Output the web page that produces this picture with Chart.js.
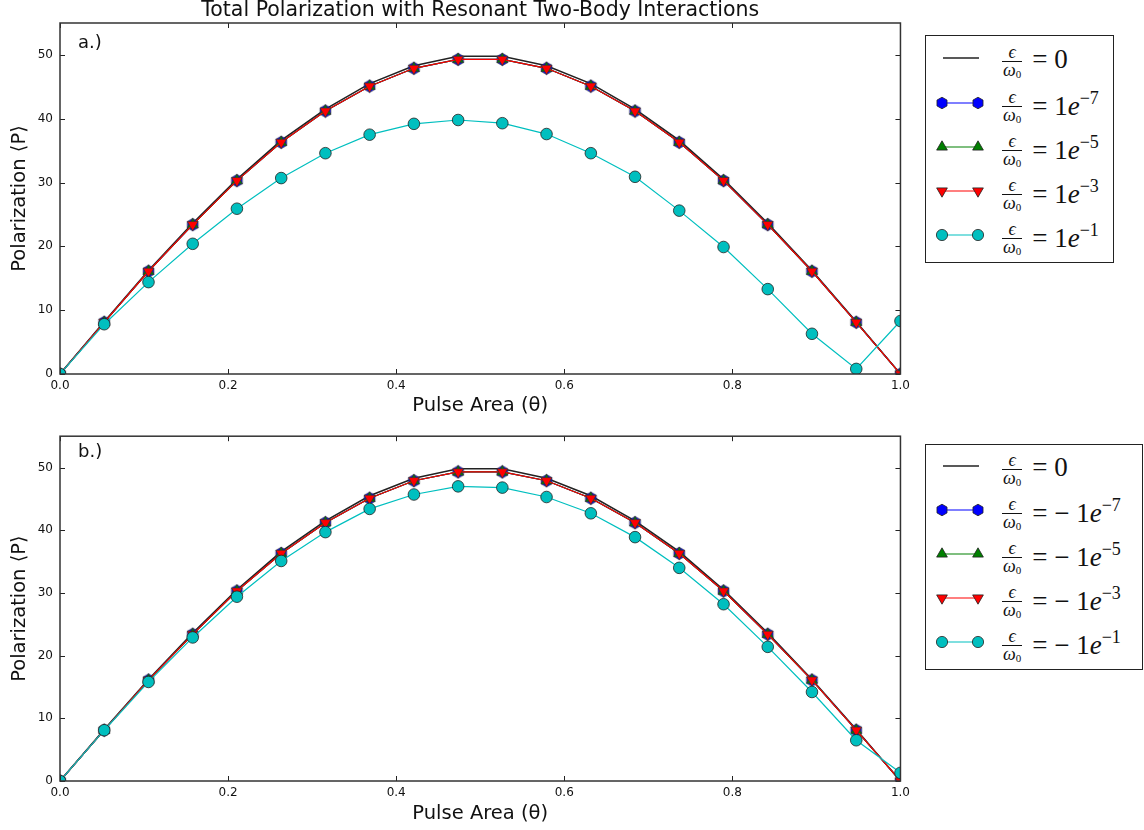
<!DOCTYPE html>
<html><head><meta charset="utf-8">
<script src="https://cdn.jsdelivr.net/npm/chart.js@4.4.0/dist/chart.umd.min.js"></script>
<style>
body{margin:0;width:1144px;height:830px;background:#fff;position:relative;overflow:hidden;font-family:"DejaVu Sans",sans-serif;}
canvas{position:absolute;left:0;}
#c1{top:0}
#c2{top:422px}
.legend{position:absolute;left:925px;border:1.5px solid #222;background:#fff;box-sizing:border-box;}
.row{position:absolute;left:0;height:40px;margin-top:-20px;}
.row svg{position:absolute;left:9px;top:11px;}
.lab{position:absolute;left:76px;top:5px;height:40px;display:flex;align-items:center;font-family:"Liberation Serif","DejaVu Serif",serif;color:#111;white-space:nowrap;}
.frac{display:inline-flex;flex-direction:column;align-items:center;font-size:18px;line-height:15px;font-style:italic;margin-right:10px;}
.frac .num{padding-bottom:1px;}
.frac .den{border-top:1px solid #111;padding:1px 1px 0 1px;}
.frac sub{font-size:11px;font-style:normal;vertical-align:-2px;}
.eq{font-size:27px;line-height:1;position:relative;top:-4px;}
.eq i{font-style:italic;}
.eq sup{font-size:18px;vertical-align:11px;}
</style></head>
<body>
<canvas id="c1" width="915" height="422"></canvas>
<canvas id="c2" width="915" height="408"></canvas>
<div class="legend" id="leg1" style="top:35px;width:189px;height:228px;"></div>
<div class="legend" id="leg2" style="top:444px;width:218px;height:226px;"></div>
<script>
// ---- data ----
const theta = [0, 0.0526, 0.1053, 0.1579, 0.2105, 0.2632, 0.3158, 0.3684, 0.4211, 0.4737, 0.5263, 0.5789, 0.6316, 0.6842, 0.7368, 0.7895, 0.8421, 0.8947, 0.9474, 1.0];
const pZero   = [0, 8.2, 16.2, 23.6, 30.5, 36.6, 41.5, 45.5, 48.3, 49.8, 49.8, 48.3, 45.5, 41.5, 36.6, 30.5, 23.6, 16.2, 8.2, 0];
const pE7     = [0, 8.1, 16.1, 23.4, 30.3, 36.3, 41.2, 45.1, 47.9, 49.3, 49.3, 47.9, 45.1, 41.2, 36.3, 30.3, 23.4, 16.1, 8.1, 0];
const pE5     = [0, 8.1, 16.1, 23.4, 30.3, 36.3, 41.2, 45.1, 47.9, 49.3, 49.3, 47.9, 45.1, 41.2, 36.3, 30.3, 23.4, 16.1, 8.1, 0];
const pE3     = [0, 8.1, 16.1, 23.4, 30.3, 36.3, 41.2, 45.1, 47.9, 49.3, 49.3, 47.9, 45.1, 41.2, 36.3, 30.3, 23.4, 16.1, 8.1, 0];
const pE1pos  = [0, 7.8, 14.4, 20.4, 25.9, 30.7, 34.6, 37.5, 39.2, 39.8, 39.3, 37.6, 34.6, 30.9, 25.6, 19.9, 13.3, 6.3, 0.8, 8.3];
const pE1neg  = [0, 8.1, 15.8, 22.9, 29.4, 35.1, 39.7, 43.4, 45.7, 47.0, 46.8, 45.3, 42.7, 38.9, 34.0, 28.2, 21.4, 14.2, 6.5, 1.3];
const xTicks = [0, 0.2, 0.4, 0.6, 0.8, 1.0];
const yTicks = [0, 10, 20, 30, 40, 50];
const legendTop = ["0", "1e-7", "1e-5", "1e-3", "1e-1"];
const legendBottom = ["0", "-1e-7", "-1e-5", "-1e-3", "-1e-1"];
const chartTitle = "Total Polarization with Resonant Two-Body Interactions";

// ---- hexagon marker ----
function hexCanvas(r){
  const s = Math.ceil(r*2+2), c = document.createElement('canvas');
  c.width = s; c.height = s;
  const g = c.getContext('2d');
  g.beginPath();
  for(let i=0;i<6;i++){const a=-Math.PI/2+i*Math.PI/3; const px=s/2+r*Math.cos(a), py=s/2+r*Math.sin(a); i?g.lineTo(px,py):g.moveTo(px,py);}
  g.closePath(); g.fillStyle='#0000ff'; g.fill(); g.lineWidth=0.7; g.strokeStyle='#333'; g.stroke();
  return c;
}
const hex = hexCanvas(6.2);

const toPts = arr => arr.map((v,i)=>({x:theta[i], y:v}));

function datasets(cyan){
  return [
    {data:toPts(pZero), borderColor:'#222', borderWidth:1.6, pointRadius:0, order:5},
    {data:toPts(pE7), borderColor:'#0000ff', borderWidth:1.2, pointStyle:hex, pointRadius:6, order:4},
    {data:toPts(pE5), borderColor:'#008000', borderWidth:1.2, pointStyle:'triangle', pointRadius:6.4, pointBackgroundColor:'#008000', pointBorderColor:'#333', pointBorderWidth:0.7, order:3},
    {data:toPts(pE3), borderColor:'#ff0000', borderWidth:1.2, pointStyle:'triangle', pointRotation:180, pointRadius:6.2, pointBackgroundColor:'#ff0000', pointBorderColor:'#333', pointBorderWidth:0.7, order:2},
    {data:toPts(cyan), borderColor:'#00bfbf', borderWidth:1.2, pointStyle:'circle', pointRadius:5.8, pointBackgroundColor:'#00bfbf', pointBorderColor:'#222', pointBorderWidth:0.8, order:1}
  ].map(d=>Object.assign({clip:0, tension:0, fill:false, pointHoverRadius:d.pointRadius}, d));
}

const framePlugin = {
  id:'frame',
  afterDatasetsDraw(chart, args, opts){
    const {ctx, chartArea:a, scales:{x,y}} = chart;
    ctx.save();
    ctx.strokeStyle='#222'; ctx.lineWidth=1;
    ctx.beginPath();
    x.ticks.forEach(t=>{const px=Math.round(x.getPixelForValue(t.value))+0.5;
      ctx.moveTo(px,a.bottom); ctx.lineTo(px,a.bottom-5); ctx.moveTo(px,a.top); ctx.lineTo(px,a.top+5);});
    y.ticks.forEach(t=>{const py=Math.round(y.getPixelForValue(t.value))+0.5;
      ctx.moveTo(a.left,py); ctx.lineTo(a.left+5,py); ctx.moveTo(a.right,py); ctx.lineTo(a.right-5,py);});
    ctx.stroke();
    ctx.lineWidth=1.5; ctx.strokeStyle='#333';
    ctx.strokeRect(a.left, a.top, a.right-a.left, a.bottom-a.top);
    ctx.fillStyle='#111'; ctx.font='18px "DejaVu Sans"'; ctx.textBaseline='alphabetic'; ctx.textAlign='left';
    ctx.fillText(opts.label, a.left+18, a.top+opts.dy);
    if(opts.title){
      ctx.font='20.5px "DejaVu Sans"'; ctx.textAlign='center'; ctx.textBaseline='middle';
      ctx.fillText(opts.title, (a.left+a.right)/2, a.top-12);
    }
    ctx.restore();
  }
};

function makeChart(id, cyan, label, title, padTop, xHeight, dy){
  return new Chart(document.getElementById(id), {
    type:'line',
    data:{datasets:datasets(cyan)},
    plugins:[framePlugin],
    options:{
      responsive:false, animation:false, devicePixelRatio:1,
      layout:{padding:{left:0,right:12,top:padTop,bottom:0}},
      plugins:{
        legend:{display:false}, tooltip:{enabled:false}, title:{display:false},
        frame:{label:label, dy:dy, title:title}
      },
      scales:{
        x:{type:'linear', min:0, max:1,
          afterBuildTicks:s=>{s.ticks = xTicks.map(v=>({value:v}));},
          ticks:{callback:v=>Number(v).toFixed(1), color:'#111', font:{family:'DejaVu Sans', size:12}, padding:5, maxRotation:0},
          grid:{display:false, drawTicks:false}, border:{display:false},
          title:{display:true, text:'Pulse Area (θ)', color:'#111', font:{family:'DejaVu Sans', size:19.5}, padding:{top:4,bottom:4}},
          afterFit:s=>{s.height = xHeight;}
        },
        y:{type:'linear', min:0, max:55,
          afterBuildTicks:s=>{s.ticks = yTicks.map(v=>({value:v}));},
          ticks:{color:'#111', font:{family:'DejaVu Sans', size:12}, padding:7},
          grid:{display:false, drawTicks:false}, border:{display:false},
          title:{display:true, text:'Polarization ⟨P⟩', color:'#111', font:{family:'DejaVu Sans', size:19.5}, padding:{top:8,bottom:4}},
          afterFit:s=>{s.width = 60;}
        }
      }
    }
  });
}

makeChart('c1', pE1pos, 'a.)', chartTitle, 23, 48, 25);
makeChart('c2', pE1neg, 'b.)', null, 11, 49, 21);

// ---- legends ----
const legStyles = [
  {color:'#222', marker:null},
  {color:'#0000ff', marker:'hex'},
  {color:'#008000', marker:'up'},
  {color:'#ff0000', marker:'down'},
  {color:'#00bfbf', marker:'circle'}
];
function markerSvg(m, cx, cy, fill){
  if(m==='hex'){let p=[];for(let i=0;i<6;i++){const a=-Math.PI/2+i*Math.PI/3;p.push((cx+5.8*Math.cos(a)).toFixed(2)+','+(cy+5.8*Math.sin(a)).toFixed(2));}
    return `<polygon points="${p.join(' ')}" fill="${fill}" stroke="#222" stroke-width="0.8"/>`;}
  if(m==='up'){const r=6.2;return `<polygon points="${cx},${cy-r} ${cx+r*0.866},${cy+r/2} ${cx-r*0.866},${cy+r/2}" fill="${fill}" stroke="#222" stroke-width="0.8"/>`;}
  if(m==='down'){const r=6.2;return `<polygon points="${cx},${cy+r} ${cx+r*0.866},${cy-r/2} ${cx-r*0.866},${cy-r/2}" fill="${fill}" stroke="#222" stroke-width="0.8"/>`;}
  if(m==='circle'){return `<circle cx="${cx}" cy="${cy}" r="5.6" fill="${fill}" stroke="#222" stroke-width="0.8"/>`;}
  return '';
}
function fmtVal(v){
  if(v==='0') return '0';
  const neg = v.startsWith('-'); const exp = v.split('e')[1];
  return (neg?'− ':'') + '1<i>e</i><sup>' + exp.replace('-','−') + '</sup>';
}
function buildLegend(el, vals, rowTops){
  vals.forEach((v,i)=>{
    const st = legStyles[i];
    const row = document.createElement('div');
    row.className='row'; row.style.top = rowTops[i]+'px'; row.style.width='100%';
    const m = st.marker;
    row.innerHTML = `<svg width="52" height="18" viewBox="0 0 52 18"><line x1="${m?7:8}" y1="9" x2="${m?43:44}" y2="9" stroke="${st.color}" stroke-width="${m?1.2:1.6}"/>${markerSvg(m,7,9,st.color)}${markerSvg(m,43,9,st.color)}</svg>`+
      `<div class="lab"><span class="frac"><span class="num">ϵ</span><span class="den">ω<sub>0</sub></span></span><span class="eq">= ${fmtVal(v)}</span></div>`;
    el.appendChild(row);
  });
}
buildLegend(document.getElementById('leg1'), legendTop, [22,67,111,155,199]);
buildLegend(document.getElementById('leg2'), legendBottom, [21,65,109,153,197]);
</script>
</body></html>
